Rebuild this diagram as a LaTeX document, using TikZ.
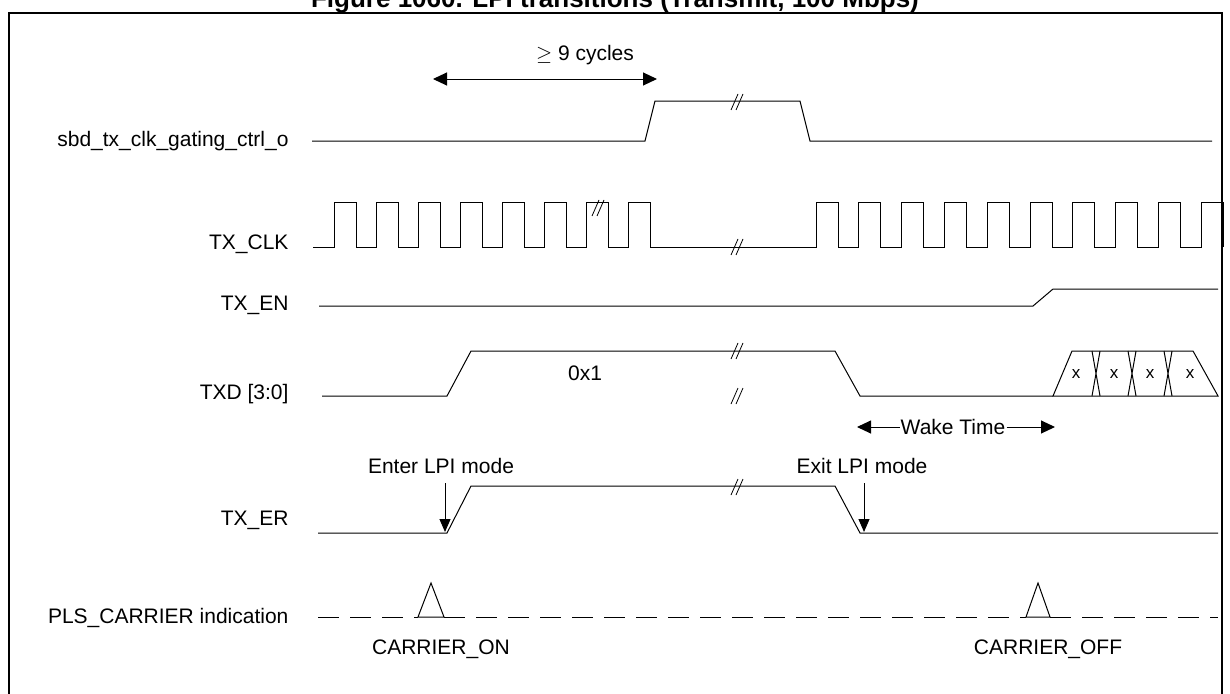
\documentclass[tikz,border=0pt]{standalone}
\usepackage{fontspec}
\setmainfont{Liberation Sans}
\usetikzlibrary{arrows.meta}
\tikzset{
  sig/.style={line width=1pt},
  lbl/.style={anchor=east,font=\fontsize{21}{25}\selectfont},
  txt/.style={font=\fontsize{21}{25}\selectfont},
  brk/.style={line width=0.8pt},
  lpi arrow/.style={-{Triangle[length=13pt,width=11pt]},line width=1pt},
  span/.style={{Triangle[length=14pt,width=13pt]}-{Triangle[length=14pt,width=13pt]},line width=1pt}
}
\newcommand{\cut}[2]{\draw[brk] (#1-6,#2+8) -- (#1+1,#2-8) (#1-1,#2+8) -- (#1+6,#2-8);}
\begin{document}
\begin{tikzpicture}[x=1pt,y=-1pt]
    \useasboundingbox (0,0) rectangle (1230,693);
    \node[font=\bfseries\fontsize{26}{30}\selectfont,anchor=base] (title) at (615,8) {Figure 1060. LPI transitions (Transmit, 100 Mbps)};
    \draw[line width=1.2pt] (9,700) -- (9,13) -- (1222,13) -- (1222,700);
    % signal names
    \node[lbl] (sbd) at (292,141) {sbd\_tx\_clk\_gating\_ctrl\_o};
    \node[lbl] (clk) at (292,244) {TX\_CLK};
    \node[lbl] (en) at (292,305) {TX\_EN};
    \node[lbl] (txd) at (292,394) {TXD [3:0]};
    \node[lbl] (er) at (292,520) {TX\_ER};
    \node[lbl] (pls) at (292,618) {PLS\_CARRIER indication};
    % sbd_tx_clk_gating_ctrl_o
    \draw[sig] (312,141) -- (645,141) -- (655,101) -- (800,101) -- (810,141) -- (1212,141);
    \cut{737}{102}
    \coordinate (c1) at (433,79);
    \coordinate (c2) at (657,79);
    \draw[span] (c1) -- (c2);
    \node[txt] (cyc) at (585,55) {$\geq$ 9 cycles};
    % TX_CLK
    \draw[sig] (313,247) foreach \k in {0,...,7}{ -- ({334+42*\k},247) -- ++(0,-45) -- ++(22,0) -- ++(0,45)}
        foreach \k in {0,...,9}{ -- ({816+42.8*\k},247) -- ++(0,-45) -- ++(22,0) -- ++(0,45)};
    \cut{598}{208}
    \cut{737}{247}
    % TX_EN
    \draw[sig] (319,306) -- (1033,306) -- (1053,289) -- (1218,289);
    % TXD
    \draw[sig] (322,396) -- (447,396) -- (471,351) -- (835,351) -- (860,396) -- (1053,396);
    \node[txt] (d0) at (585,373) {0x1};
    \cut{737}{351}
    \cut{737}{396}
    \draw[sig] (1053,396) -- (1072,351) -- (1193,351) -- (1218,396) -- cycle;
    \foreach \c in {1096,1132,1168}
        \draw[sig] (\c-4,396) -- (\c+4,351) (\c-4,351) -- (\c+4,396);
    \foreach \x in {1076,1114,1150,1190}
        \node[txt,font=\fontsize{17}{20}\selectfont] at (\x,374) {x};
    \coordinate (w1) at (857,427);
    \coordinate (w2) at (1055,427);
    \node[txt,fill=white,inner sep=1pt] (wake) at (953,427) {Wake Time};
    \draw[-{Triangle[length=14pt,width=13pt]},line width=1pt] (wake.west) -- (w1);
    \draw[-{Triangle[length=14pt,width=13pt]},line width=1pt] (wake.east) -- (w2);
    % TX_ER
    \draw[sig] (318,533) -- (447,533) -- (471,486) -- (835,486) -- (860,533) -- (1218,533);
    \cut{737}{487}
    \node[txt] (enter) at (441,466) {Enter LPI mode};
    \node[txt] (exit) at (862,466) {Exit LPI mode};
    \draw[lpi arrow] (445,483) -- (445,532);
    \draw[lpi arrow] (864,483) -- (864,532);
    % PLS_CARRIER indication
    \draw[sig,dash pattern=on 21pt off 11pt] (318,617) -- (418,617);
    \draw[sig,dash pattern=on 21pt off 11pt] (444,617) -- (1026,617);
    \draw[sig,dash pattern=on 21pt off 11pt] (1050,617) -- (1218,617);
    \draw[sig] (418,617) -- (431,583) -- (444,617) -- cycle;
    \draw[sig] (1026,617) -- (1038,583) -- (1050,617) -- cycle;
    \node[txt] (con) at (441,649) {CARRIER\_ON};
    \node[txt] (coff) at (1048,649) {CARRIER\_OFF};
\end{tikzpicture}
\end{document}
